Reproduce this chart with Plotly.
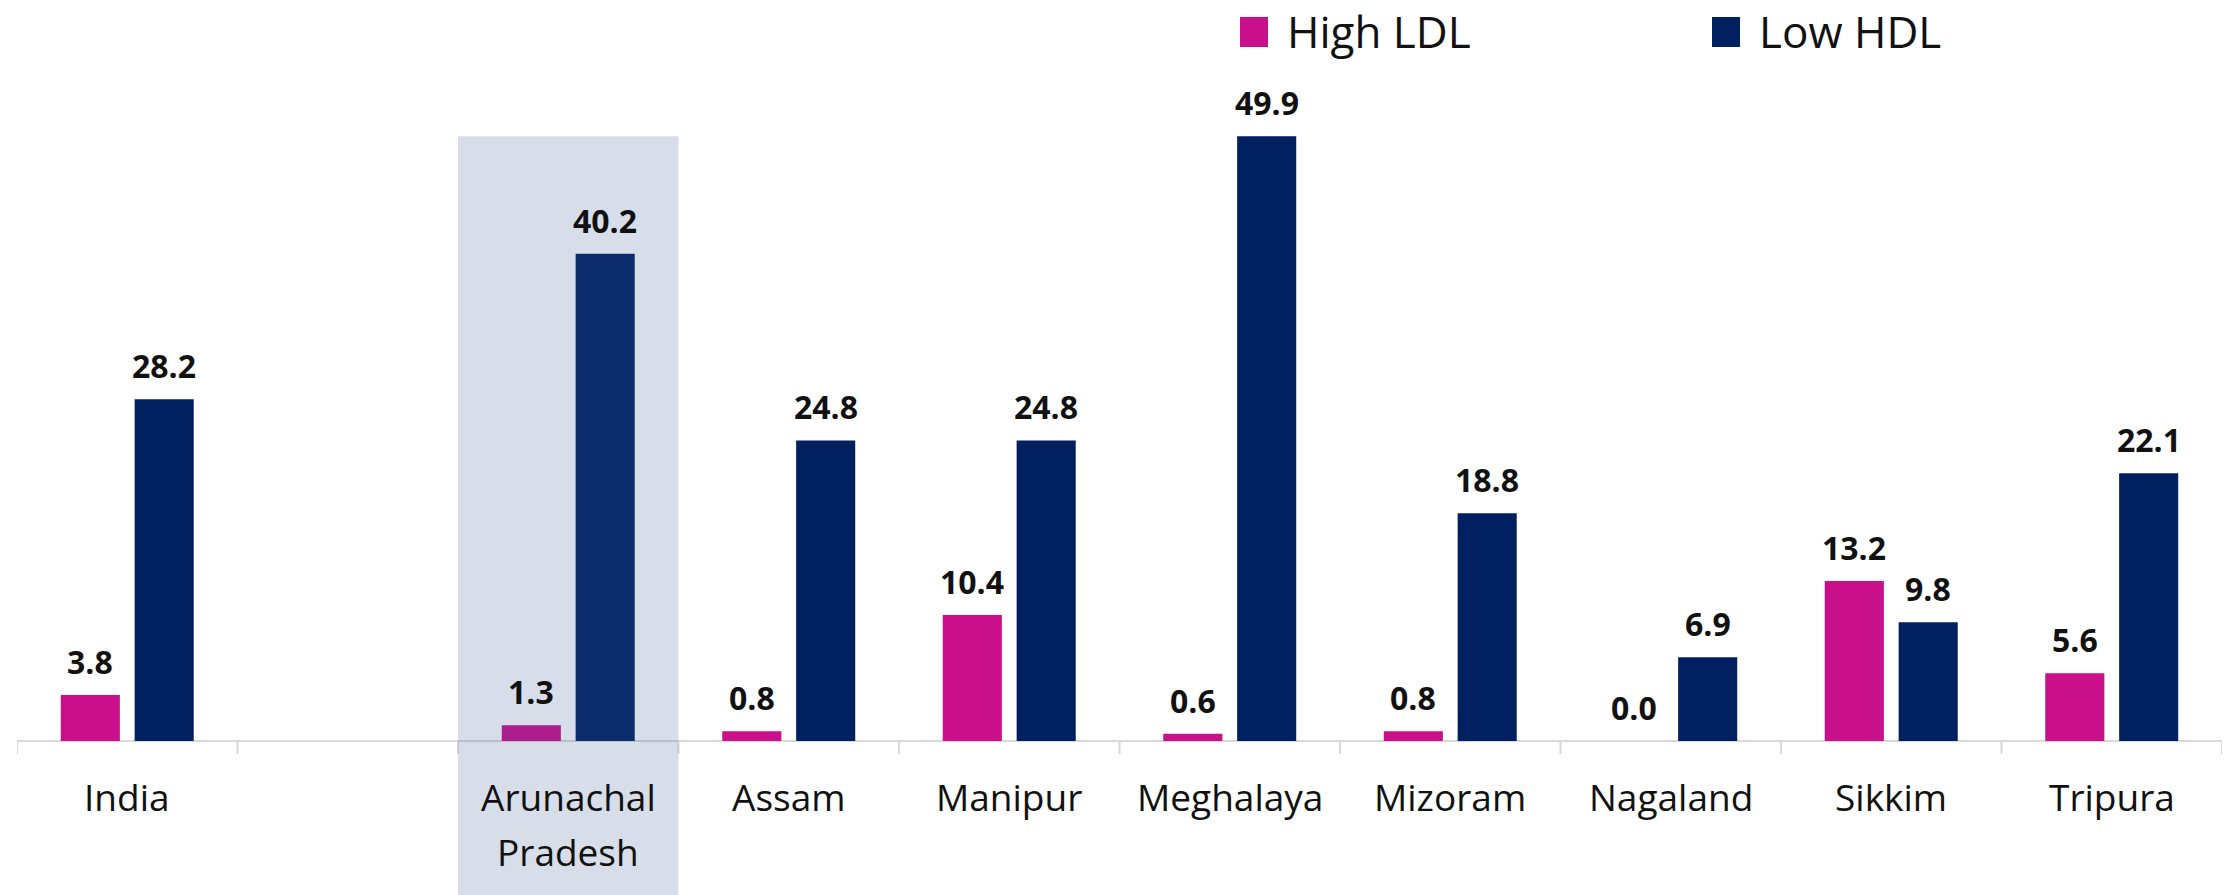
import plotly.graph_objects as go

# Data: prevalence (%) of high LDL and low HDL, India and north-eastern states
states = ["India", "", "Arunachal<br>Pradesh", "Assam", "Manipur", "Meghalaya",
          "Mizoram", "Nagaland", "Sikkim", "Tripura"]
high_ldl = [3.8, None, 1.3, 0.8, 10.4, 0.6, 0.8, 0.0, 13.2, 5.6]
low_hdl = [28.2, None, 40.2, 24.8, 24.8, 49.9, 18.8, 6.9, 9.8, 22.1]
series_names = ["High LDL", "Low HDL"]
highlight_state = "Arunachal<br>Pradesh"

PINK = "#C90F8A"
NAVY = "#002060"
TEXT = "#111111"
FONT = "Open Sans"

W, H = 2231, 895
ML, MR = 17, 9
AXIS_PX = 741          # pixel row of the category baseline
PX_PER_UNIT = 12.12    # vertical scale

BARGAP = 0.33
BARGROUPGAP = 0.2

pos = list(range(len(states)))
ymax = AXIS_PX / PX_PER_UNIT
ymin = -(H - AXIS_PX) / PX_PER_UNIT

fig = go.Figure()
for name, vals, col in [(series_names[0], high_ldl, PINK), (series_names[1], low_hdl, NAVY)]:
    fig.add_trace(go.Bar(x=pos, y=vals, name=name, marker=dict(color=col, line=dict(width=0)),
                         showlegend=False, hoverinfo="x+y"))

annotations = []
shapes = []

# value labels above each bar
slot = (1 - BARGAP) / 2
for k, vals in enumerate([high_ldl, low_hdl]):
    off = (k - 0.5) * slot
    for i, v in zip(pos, vals):
        if v is None:
            continue
        annotations.append(dict(x=i + off, y=v, xref="x", yref="y", text=f"<b>{v:.1f}</b>",
                                showarrow=False, yanchor="bottom", xanchor="center", yshift=10,
                                font=dict(family=FONT, size=32, color=TEXT)))

# category labels under the baseline
for i, lab in zip(pos, states):
    for j, line in enumerate(lab.split("<br>")):
        if not line:
            continue
        annotations.append(dict(x=i, y=0, xref="x", yref="y", text=line, showarrow=False,
                                yanchor="middle", xanchor="center", yshift=-55 - 55 * j,
                                font=dict(family=FONT, size=37, color=TEXT)))

# baseline and boundary ticks
shapes.append(dict(type="line", xref="x", yref="y", x0=-0.5, x1=len(states) - 0.5, y0=0, y1=0,
                   line=dict(color="#D9D9D9", width=2), layer="below"))
for b in range(len(states) + 1):
    shapes.append(dict(type="line", xref="x", yref="y", x0=b - 0.5, x1=b - 0.5,
                       ysizemode="pixel", yanchor=0, y0=0, y1=-13,
                       line=dict(color="#D9D9D9", width=2), layer="below"))

# highlight band over the selected state
hi = states.index(highlight_state)
shapes.append(dict(type="rect", xref="x", yref="y", x0=hi - 0.5, x1=hi + 0.5,
                   y0=ymin, y1=max(v for v in low_hdl if v is not None),
                   fillcolor="rgb(55,89,148)", opacity=0.2, line=dict(width=0), layer="above"))

# legend
def px_x(p):
    return (p - ML) / (W - ML - MR)

def px_y(p):
    return 1 - p / H

for name, col, sq_left, txt_left in [(series_names[0], PINK, 1240, 1285),
                                      (series_names[1], NAVY, 1712, 1757)]:
    shapes.append(dict(type="rect", xref="paper", yref="paper",
                       x0=px_x(sq_left), x1=px_x(sq_left + 28), y0=px_y(47), y1=px_y(17),
                       fillcolor=col, line=dict(width=0)))
    annotations.append(dict(x=px_x(txt_left), y=px_y(31), xref="paper", yref="paper", text=name,
                            showarrow=False, xanchor="left", yanchor="middle",
                            font=dict(family=FONT, size=44, color=TEXT)))

fig.update_layout(
    width=W, height=H,
    margin=dict(l=ML, r=MR, t=0, b=0, pad=0),
    paper_bgcolor="white", plot_bgcolor="white",
    barmode="group", bargap=BARGAP, bargroupgap=BARGROUPGAP,
    xaxis=dict(visible=False, range=[-0.5, len(states) - 0.5]),
    yaxis=dict(visible=False, range=[ymin, ymax]),
    annotations=annotations, shapes=shapes,
    font=dict(family=FONT, color=TEXT),
)

fig.write_html("out.html")
